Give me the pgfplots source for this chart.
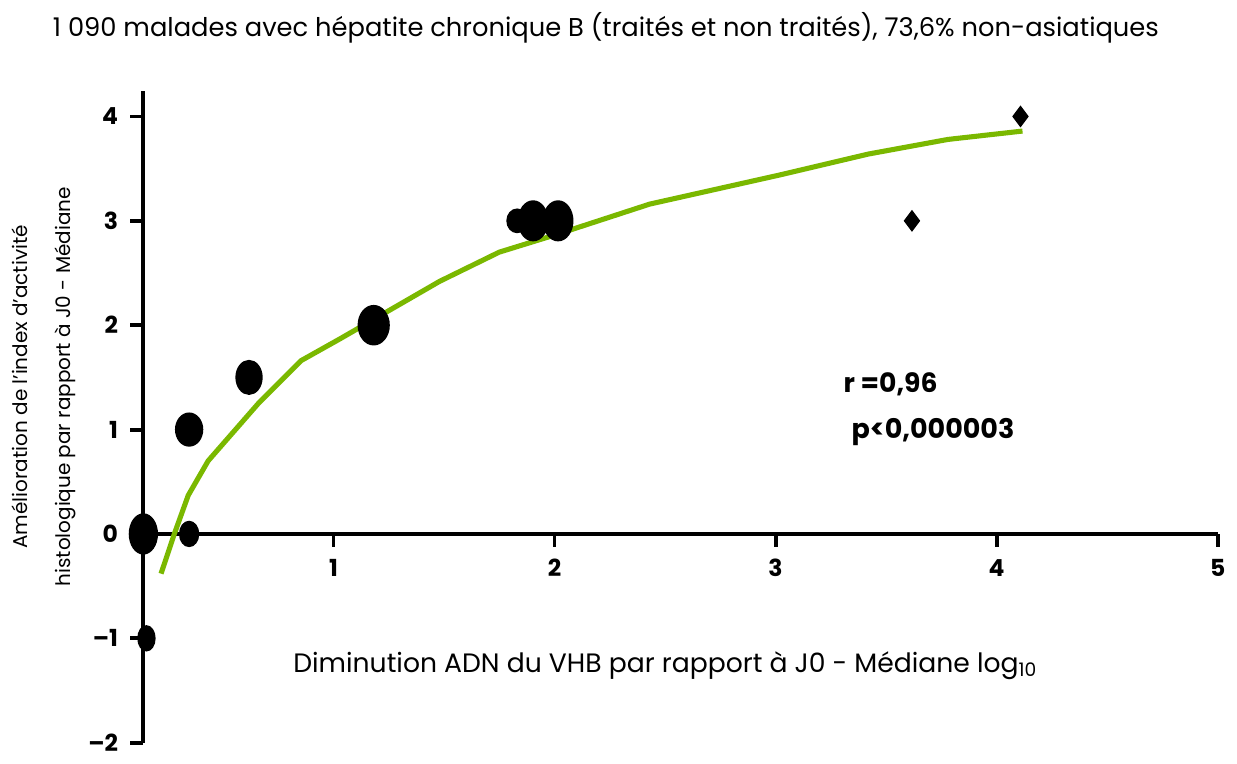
\documentclass[border=0pt]{standalone}
\usepackage{fontspec}
\setmainfont{Poppins}
\usepackage{pgfplots}
\pgfplotsset{compat=1.18}
\definecolor{fitgreen}{RGB}{122,184,0}
\begin{document}
\begin{tikzpicture}
\begin{axis}[
  x=22.175mm, y=10.47mm,
  xmin=0.14, xmax=5, ymin=-2, ymax=4.24,
  axis x line=middle, axis y line=left,
  axis line style={-, line width=1.1pt, black},
  clip=false,
  xtick={1,2,3,4,5}, xticklabels={1,2,3,4,5},
  ytick={-2,-1,0,1,2,3,4}, yticklabels={--2,--1,0,1,2,3,4},
  tick align=outside,
  major tick length=1.3mm,
  tick style={line width=1.1pt, black},
  ticklabel style={font=\fontsize{6.7}{7}\selectfont\bfseries},
]
\path (axis cs:-0.5,-2.086) rectangle (axis cs:5.078,5.116);
% fitted curve
\addplot[fitgreen, line width=1.45pt, no marks] coordinates {
 (0.22,-0.38) (0.28,0) (0.343,0.37) (0.433,0.70) (0.66,1.25) (0.853,1.66)
 (1.03,1.87) (1.30,2.20) (1.48,2.42) (1.75,2.70) (2.01,2.87) (2.43,3.16)
 (3.02,3.44) (3.42,3.64) (3.78,3.78) (4.117,3.86)};
% patient groups (ellipses)
\addplot[only marks, mark=*, mark size=3.98pt, mark options={black, yscale=1.43}] coordinates {(0.14,0)};
\addplot[only marks, mark=*, mark size=4.4pt, mark options={black, yscale=1.27}] coordinates {(1.182,2)};
\addplot[only marks, mark=*, mark size=3.84pt, mark options={black, yscale=1.22}] coordinates {(0.347,1)};
\addplot[only marks, mark=*, mark size=3.7pt, mark options={black, yscale=1.3}] coordinates {(0.618,1.5)};
\addplot[only marks, mark=*, mark size=2.9pt, mark options={black, yscale=1.15}] coordinates {(1.831,3)};
\addplot[only marks, mark=*, mark size=4.2pt, mark options={black, yscale=1.35}] coordinates {(1.903,3) (2.016,3)};
\addplot[only marks, mark=*, mark size=2.7pt, mark options={black, yscale=1.32}] coordinates {(0.347,0)};
\addplot[only marks, mark=*, mark size=2.42pt, mark options={black, yscale=1.47}] coordinates {(0.154,-1)};
% diamonds
\addplot[only marks, mark=diamond*, mark size=2.8pt, mark options={black}] coordinates {(3.617,3) (4.108,4)};
% texts
\node[anchor=west, font=\fontsize{7.35}{9}\selectfont] at (axis cs:-0.325,4.848)
  {1 090 malades avec hépatite chronique B (traités et non traités), 73,6\% non-asiatiques};
\node[rotate=90, font=\fontsize{5.7}{7}\selectfont] at (axis cs:-0.42,1.41) {Amélioration de l'index d'activité};
\node[rotate=90, font=\fontsize{5.7}{7}\selectfont] at (axis cs:-0.212,1.41) {histologique par rapport à J0 - Médiane};
\node[font=\fontsize{7.6}{9}\selectfont] at (axis cs:2.503,-1.265) {Diminution ADN du VHB par rapport à J0 - Médiane log\textsubscript{10}};
\node[anchor=west, font=\fontsize{7.6}{9}\selectfont\bfseries] at (axis cs:3.252,1.438) {r =0,96};
\node[anchor=west, font=\fontsize{7.7}{9}\selectfont\bfseries] at (axis cs:3.288,0.98) {p<0,000003};
\end{axis}
\end{tikzpicture}
\end{document}
